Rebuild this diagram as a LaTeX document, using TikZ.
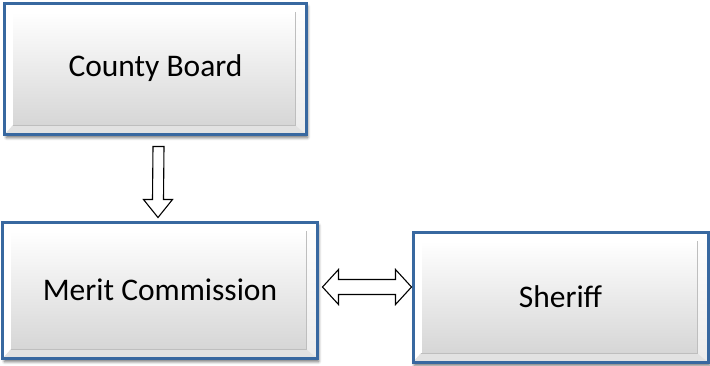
\documentclass[tikz,border=0pt]{standalone}
\usepackage{fontspec}
\setmainfont{Carlito}
\usetikzlibrary{calc,shadows.blur}
\definecolor{bord}{RGB}{56,104,160}
\definecolor{faceb}{RGB}{214,214,214}
\definecolor{bevr}{RGB}{236,236,236}
\definecolor{bevb}{RGB}{226,226,226}
\definecolor{bevline}{RGB}{190,190,190}
\tikzset{
  bbox/.style={rectangle, inner sep=0pt, draw=bord, line width=3bp,
    fill=white,
    font=\fontsize{31.6}{38}\selectfont,
    blur shadow={shadow xshift=1.5bp, shadow yshift=-3.5bp, shadow blur steps=6, shadow opacity=60, shadow blur radius=3bp},
    path picture={
      \coordinate (pnw) at (path picture bounding box.north west);
      \coordinate (pne) at (path picture bounding box.north east);
      \coordinate (psw) at (path picture bounding box.south west);
      \coordinate (pse) at (path picture bounding box.south east);
      \coordinate (inw) at ($(pnw)+(8,9)$);
      \coordinate (ine) at ($(pne)+(-11,9)$);
      \coordinate (isw) at ($(psw)+(8,-9)$);
      \coordinate (ise) at ($(pse)+(-11,-9)$);
      \fill[white] (pnw) -- (pne) -- (ine) -- (inw) -- cycle;
      \fill[white] (pnw) -- (inw) -- (isw) -- (psw) -- cycle;
      \shade[top color=white, bottom color=bevr] (pne) -- (ine) -- (ise) -- (pse) -- cycle;
      \fill[bevb] (psw) -- (isw) -- (ise) -- (pse) -- cycle;
      \shade[top color=white, bottom color=faceb] (inw) rectangle (ise);
      \draw[bevline, line width=0.8bp] (ine) -- (ise) -- (isw);
      \draw[white, line width=1bp] (inw) -- (isw);
    }},
  blockarrow/.style={draw=black, fill=white, line width=1.1bp, line join=miter}
}
\begin{document}
\begin{tikzpicture}[x=1bp, y=-1bp]
\useasboundingbox (0,0) rectangle (710,365);
\node[bbox, minimum width=301bp, minimum height=131bp] (cb) at (155.5,68.5) {County Board};
\node[bbox, minimum width=314bp, minimum height=136bp] (mc) at (160,290) {Merit Commission};
\node[bbox, minimum width=295bp, minimum height=130bp] (sh) at (560.5,297) {Sheriff};
% down arrow
\coordinate (dtop) at ($(cb.south)+(3,11)$);
\coordinate (dtip) at ($(mc.north)+(-2,-3)$);
\draw[blockarrow] ($(dtop)+(-5.5,0)$) -- ($(dtop)+(5.5,0)$) -- ($(dtip)+(5.5,-18)$) -- ($(dtip)+(14.5,-18)$) -- (dtip) -- ($(dtip)+(-14.5,-18)$) -- ($(dtip)+(-5.5,-18)$) -- cycle;
% double arrow
\coordinate (ltip) at ($(mc.east)+(4,-3)$);
\coordinate (rtip) at ($(sh.west)+(0,-10)$);
\draw[blockarrow] (ltip) -- ($(ltip)+(16,-17.5)$) -- ($(ltip)+(16,-7.5)$) -- ($(rtip)+(-16,-7.5)$) -- ($(rtip)+(-16,-17.5)$) -- (rtip) -- ($(rtip)+(-16,17.5)$) -- ($(rtip)+(-16,7.5)$) -- ($(ltip)+(16,7.5)$) -- ($(ltip)+(16,17.5)$) -- cycle;
\end{tikzpicture}
\end{document}
